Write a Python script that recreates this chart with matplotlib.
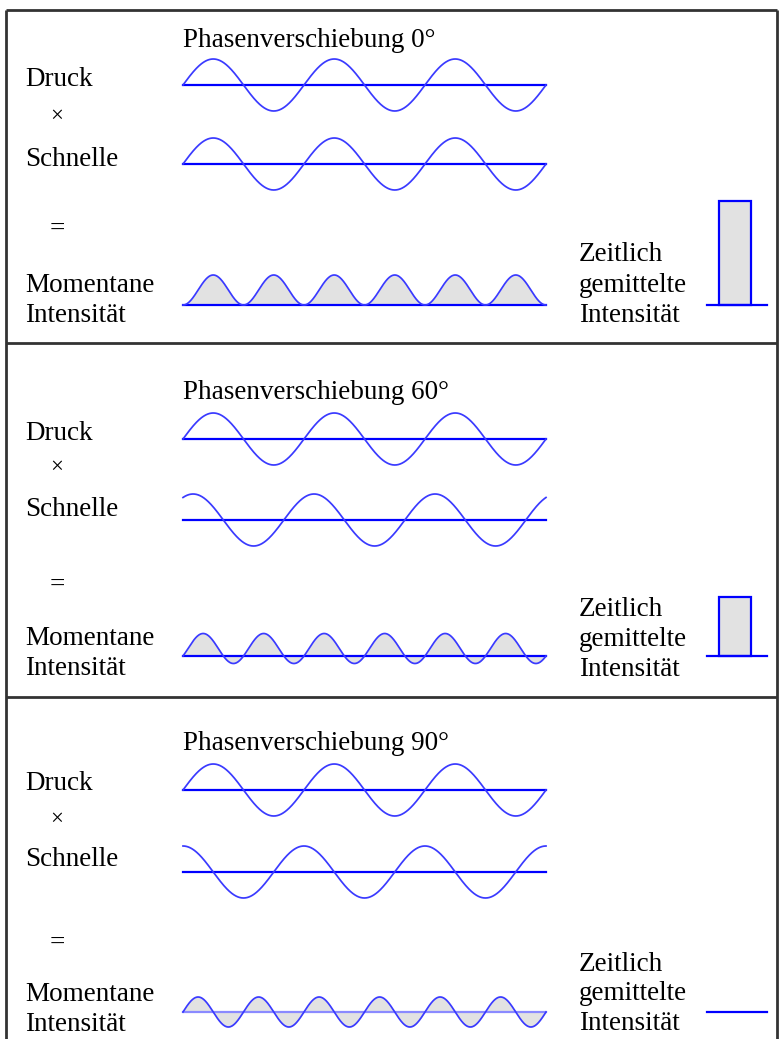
import numpy as np
import matplotlib
matplotlib.use("Agg")
import matplotlib.pyplot as plt

# ---------------- data ----------------
phase_shifts_deg = [0, 60, 90]          # phase shift between pressure and particle velocity
n_cycles = 3                             # periods shown for pressure / velocity
mean_intensity = [1.0, 0.57, 0.0]        # time-averaged intensity (relative bar heights)
title_fmt = "Phasenverschiebung {}\u00b0"
label_druck = "Druck"
label_times = "\u00d7"
label_schnelle = "Schnelle"
label_equals = "="
label_moment = ["Momentane", "Intensit\u00e4t"]
label_mean = ["Zeitlich", "gemittelte", "Intensit\u00e4t"]

# ---------------- layout (pixel space) ----------------
W, H = 779, 1039
DPI = 100
FONT = "Liberation Serif"
FS = 19.5
BLUE = "#0000ff"
WAVE = "#3a3aff"
FILL = "#e2e2e2"

x0, x1 = 183, 546
amp_wave = 26
amp_prod = 30
bar_scale = 104
bar_x, bar_w = 735, 32
bar_base_x = (707, 767)

separators = [343, 697]
title_base = [47, 399, 750]
druck_y = [85, 439, 790]
schnelle_y = [164, 520, 872]
product_y = [305, 656, 1012]
druck_txt = [86, 440, 790]
times_txt = [122, 473, 825]
schnelle_txt = [166, 516, 866]
equals_txt = [236, 592, 950]
moment_txt = [(292, 322), (645, 675), (1001, 1031)]
mean_txt = [(261, 292, 322), (616, 646, 676), (971, 1000, 1030)]
prod_base_color = [BLUE, BLUE, "#8a8aff"]

fig = plt.figure(figsize=(W / DPI, H / DPI), dpi=DPI)
ax = fig.add_axes([0, 0, 1, 1])
ax.set_xlim(0, W)
ax.set_ylim(H, 0)
ax.axis("off")

txt = dict(fontfamily=FONT, fontsize=FS, color="black", va="baseline", ha="left")

# frame
frame_kw = dict(color="#333333", lw=2.0, solid_capstyle="butt")
ax.plot([6, 6], [10, H], **frame_kw)
ax.plot([6, 777], [10, 10], **frame_kw)
ax.plot([777, 777], [10, H], **frame_kw)
for s in separators:
    ax.plot([6, 777], [s, s], **frame_kw)

t = np.linspace(0, n_cycles, 1200)
xs = x0 + (x1 - x0) * t / n_cycles

for i, phi in enumerate(phase_shifts_deg):
    ph = np.deg2rad(phi)
    druck = np.sin(2 * np.pi * t)
    schnelle = np.sin(2 * np.pi * t + ph)
    prod = druck * schnelle

    ax.text(x0, title_base[i], title_fmt.format(phi), **txt)
    ax.text(25, druck_txt[i], label_druck, **txt)
    ax.text(50, times_txt[i], label_times, fontfamily=FONT, fontsize=16.5,
            va="baseline", ha="left")
    ax.text(50, equals_txt[i], label_equals, fontfamily=FONT, fontsize=FS,
            va="baseline", ha="left")
    ax.text(25, schnelle_txt[i], label_schnelle, **txt)
    for line, yb in zip(label_moment, moment_txt[i]):
        ax.text(25, yb, line, **txt)
    for line, yb in zip(label_mean, mean_txt[i]):
        ax.text(579, yb, line, **txt)

    # pressure
    ax.plot([x0, x1], [druck_y[i]] * 2, color=BLUE, lw=1.6)
    ax.plot(xs, druck_y[i] - amp_wave * druck, color=WAVE, lw=1.25)
    # velocity
    ax.plot([x0, x1], [schnelle_y[i]] * 2, color=BLUE, lw=1.6)
    ax.plot(xs, schnelle_y[i] - amp_wave * schnelle, color=WAVE, lw=1.25)
    # instantaneous intensity
    yp = product_y[i] - amp_prod * prod
    ax.plot([x0, x1], [product_y[i]] * 2, color=prod_base_color[i], lw=1.6, zorder=2)
    ax.fill_between(xs, product_y[i], yp, color=FILL, lw=0, zorder=1)
    ax.plot(xs, yp, color=WAVE, lw=1.25, zorder=3)

    # time-averaged intensity bar
    h = bar_scale * mean_intensity[i]
    if h > 0:
        ax.bar(bar_x, -h, width=bar_w, bottom=product_y[i], color=FILL,
               edgecolor=BLUE, linewidth=1.6, zorder=2)
    ax.plot(bar_base_x, [product_y[i]] * 2, color=BLUE, lw=1.6, zorder=3)

fig.savefig("out.png", dpi=DPI)
